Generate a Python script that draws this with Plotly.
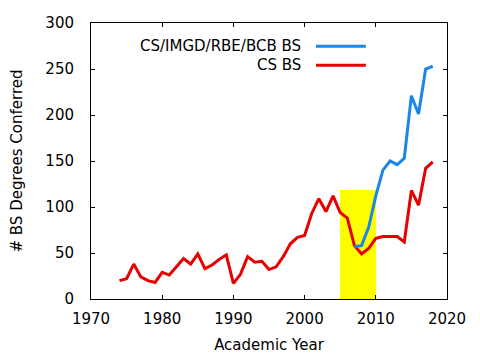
import plotly.graph_objects as go

# Data
cs_years = list(range(1974, 2019))
cs_values = [20, 22, 38, 24, 20, 18, 29, 26, 35, 44, 38, 49, 33, 37, 43, 48, 17, 27, 46, 40,
             41, 32, 35, 46, 60, 67, 69, 93, 109, 95, 112, 94, 88, 58, 49, 55, 66, 68, 68, 68,
             62, 118, 102, 142, 149]
all_years = list(range(2007, 2019))
all_values = [57, 58, 78, 112, 140, 150, 146, 153, 221, 201, 250, 253]
highlight_start = 2005
highlight_end = 2010
highlight_height = 118

series_names = ["CS/IMGD/RBE/BCB BS", "CS BS"]
blue = "#1a86e8"
red = "#e60000"
font = "DejaVu Sans"

fig = go.Figure()
fig.add_trace(go.Bar(
    x=[(highlight_start + highlight_end) / 2], y=[highlight_height],
    width=[highlight_end - highlight_start], marker=dict(color="#ffff00", line=dict(width=0)),
    showlegend=False, hoverinfo="skip"))
fig.add_trace(go.Scatter(x=cs_years, y=cs_values, mode="lines", name=series_names[1],
                         line=dict(color=red, width=3), showlegend=False))
fig.add_trace(go.Scatter(x=all_years, y=all_values, mode="lines", name=series_names[0],
                         line=dict(color=blue, width=3), showlegend=False))

# legend drawn gnuplot-style: right aligned text followed by a line sample
legend_rows = [(series_names[0], blue, 0.916), (series_names[1], red, 0.847)]
for text, color, yy in legend_rows:
    fig.add_annotation(x=0.595, y=yy, xref="paper", yref="paper", text=text, showarrow=False,
                       xanchor="right", yanchor="middle", font=dict(family=font, size=15, color="#000"))
    fig.add_shape(type="line", xref="paper", yref="paper", x0=0.632, x1=0.772, y0=yy, y1=yy,
                  line=dict(color=color, width=3))

axis_common = dict(showgrid=False, zeroline=False, showline=True, linecolor="black", linewidth=1,
                   mirror="ticks", ticks="inside", ticklen=4, tickcolor="black", automargin=False,
                   tickfont=dict(family=font, size=15, color="#000"))
# the page body has an 8px margin, so the figure is sized/offset to compensate
fig.update_layout(
    width=472, height=352,
    margin=dict(l=83, r=33, t=15, b=61),
    paper_bgcolor="white", plot_bgcolor="white",
    font=dict(family=font, size=15, color="#000"),
    bargap=0,
    xaxis=dict(range=[1970, 2020], tickvals=[1970, 1980, 1990, 2000, 2010, 2020],
               title=dict(text="Academic Year", font=dict(family=font, size=15), standoff=12),
               ticklabelstandoff=6, **axis_common),
    yaxis=dict(range=[0, 300], tickvals=[0, 50, 100, 150, 200, 250, 300],
               title=dict(text="# BS Degrees Conferred", font=dict(family=font, size=15), standoff=21),
               ticklabelstandoff=13, **axis_common),
)
fig.write_html("out.html")
